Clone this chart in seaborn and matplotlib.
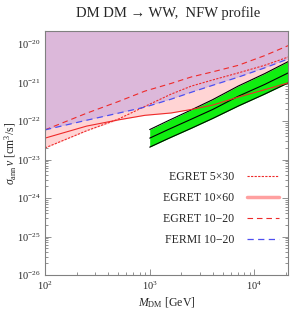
import matplotlib

matplotlib.use("Agg")
import matplotlib.pyplot as plt
import matplotlib.ticker as mticker
from matplotlib.lines import Line2D
import numpy as np
import seaborn as sns

# dark matter mass [GeV], shared by the constraint curves
mass = [100, 250, 500, 900, 1600, 2500, 4000, 7000, 12500, 21000]
egret_5x30 = [2.0e-23, 5.6e-23, 1.12e-22, 2.4e-22, 5.0e-22, 8.1e-22, 1.17e-21, 1.78e-21, 2.8e-21, 4.6e-21]
egret_10x60 = [3.6e-23, 7.4e-23, 1.07e-22, 1.41e-22, 1.62e-22, 2.0e-22, 2.6e-22, 4.2e-22, 6.5e-22, 9.8e-22]
egret_10_20 = [5.9e-23, 1.6e-22, 3.2e-22, 6.0e-22, 9.5e-22, 1.4e-21, 1.9e-21, 2.8e-21, 5.0e-21, 9.1e-21]
fermi_10_20 = [5.9e-23, 1.05e-22, 1.6e-22, 2.3e-22, 3.7e-22, 5.6e-22, 8.5e-22, 1.38e-21, 2.4e-21, 4.1e-21]

# green band (favoured region)
band_mass = [1000, 1500, 2500, 4000, 7000, 12500, 21000]
band_mid = [3.6e-23, 6.0e-23, 1.12e-22, 2.0e-22, 4.4e-22, 8.9e-22, 1.78e-21]
band_hi = [6.0e-23, 1.02e-22, 1.95e-22, 3.6e-22, 8.1e-22, 1.7e-21, 3.5e-21]
band_lo = [2.1e-23, 3.5e-23, 6.5e-23, 1.17e-22, 2.45e-22, 5.0e-22, 9.8e-22]

labels = ["EGRET 5×30", "EGRET 10×60", "EGRET 10−20", "FERMI 10−20"]
x_ticks = [1e2, 1e3, 1e4]
y_ticks = [1e-26, 1e-25, 1e-24, 1e-23, 1e-22, 1e-21, 1e-20]

RED = "#ee2a2a"
BLUE = "#4f4ff0"
PURPLE = "#dcb8da"
PINK = "#ffd4d4"
GREEN = "#10ee10"

sns.set_style("ticks")
plt.rcParams["font.family"] = ["Liberation Serif", "DejaVu Serif"]
plt.rcParams["mathtext.fontset"] = "custom"
plt.rcParams["mathtext.rm"] = "Liberation Serif"
plt.rcParams["mathtext.it"] = "Liberation Serif:italic"

fig, ax = plt.subplots(figsize=(2.94, 3.09), dpi=100)
fig.subplots_adjust(left=0.153, right=0.980, bottom=0.110, top=0.900)

ax.set_xscale("log")
ax.set_yscale("log")

lower = np.minimum(egret_5x30, egret_10x60)
ax.fill_between(mass, fermi_10_20, 1e-18, color=PURPLE, lw=0)
ax.fill_between(mass, lower, fermi_10_20, color=PINK, lw=0)

ax.fill_between(band_mass, band_lo, band_hi, color=GREEN, lw=0)
for ys in (band_lo, band_mid, band_hi):
    sns.lineplot(x=band_mass, y=ys, color="black", lw=0.8, ax=ax)

sns.lineplot(x=mass, y=egret_10x60, color=RED, lw=0.8, ax=ax)
sns.lineplot(x=mass, y=egret_5x30, color=RED, lw=0.8, linestyle=(0, (2, 1.2)), ax=ax)
sns.lineplot(x=mass, y=egret_10_20, color=RED, lw=0.8, linestyle=(0, (5, 3.5)), ax=ax)
sns.lineplot(x=mass, y=fermi_10_20, color=BLUE, lw=0.9, linestyle=(0, (5, 3.5)), ax=ax)

ax.set_xlim(100, 21000)
ax.set_ylim(1e-26, 2.2e-20)

ax.set_xticks(x_ticks)
ax.set_yticks(y_ticks)
ax.xaxis.set_minor_locator(mticker.LogLocator(base=10, subs=np.arange(2, 10), numticks=20))
ax.yaxis.set_minor_locator(mticker.LogLocator(base=10, subs=np.arange(2, 10), numticks=20))
ax.yaxis.set_minor_formatter(mticker.NullFormatter())
ax.xaxis.set_minor_formatter(mticker.NullFormatter())

ax.tick_params(which="both", direction="in", top=True, right=True,
               color="#808080", labelsize=7.5, width=0.6)
ax.tick_params(which="major", length=4.5, pad=3)
ax.tick_params(which="minor", length=2.5)
for s in ax.spines.values():
    s.set_color("#808080")
    s.set_linewidth(0.8)

ax.set_xlabel(r"$M_{\rm DM}$ [GeV]", fontsize=8.5)
ax.set_ylabel(r"$\sigma_{\rm ann}\, v$ [cm$^3$/s]", fontsize=8.5)
ax.xaxis.set_label_coords(0.5, -0.085)
ax.yaxis.set_label_coords(-0.105, 0.5)
fig.text(0.571, 1 - 13 / 309, "DM DM → WW,  NFW profile",
         ha="center", va="center", fontsize=10.5)

handles = [
    Line2D([], [], color=RED, lw=0.8, linestyle=(0, (2, 1.2))),
    Line2D([], [], color="#ffa0a0", lw=2.5),
    Line2D([], [], color=RED, lw=0.8, linestyle=(0, (5, 3.5))),
    Line2D([], [], color=BLUE, lw=0.9, linestyle=(0, (5, 3.5))),
]
ax.legend(handles, labels, loc="lower right", bbox_to_anchor=(0.963, 0.12),
          frameon=False, markerfirst=False, fontsize=8.5, handlelength=2.7,
          handletextpad=1.1, labelspacing=0.75, borderaxespad=0, borderpad=0)

fig.savefig("out.png", dpi=100)
